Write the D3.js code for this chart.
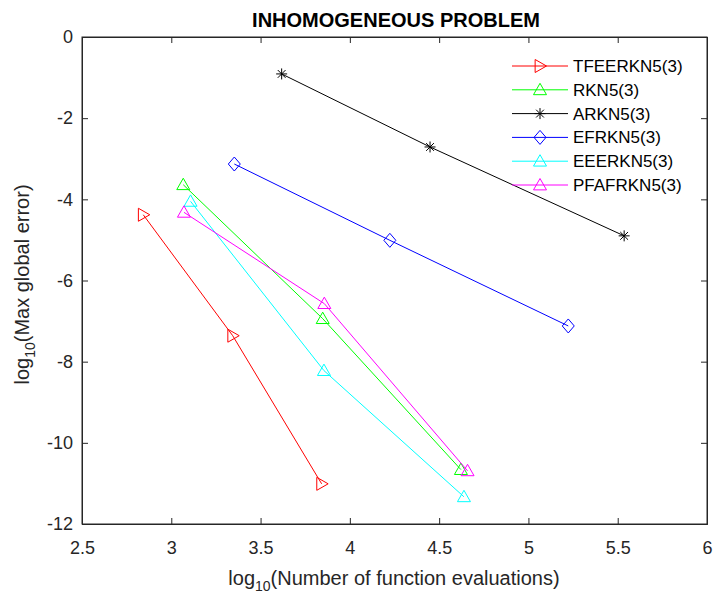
<!DOCTYPE html>
<html><head><meta charset="utf-8">
<script src="https://cdn.jsdelivr.net/npm/d3@7"></script>
<style>body{margin:0;background:#fff}svg{display:block;font-family:"Liberation Sans",Arial,sans-serif}</style>
</head><body><svg id="c" width="714" height="593"></svg>
<script>
const seriesNames = ["TFEERKN5(3)","RKN5(3)","ARKN5(3)","EFRKN5(3)","EEERKN5(3)","PFAFRKN5(3)"];
const seriesColors = ["#ff0000","#00ff00","#000000","#0000ff","#00ffff","#ff00ff"];
const seriesMarkers = ["triRight","triUp","star","diamond","triUp","triUp"];
const xTFEERKN = [2.843, 3.344, 3.842];
const yTFEERKN = [-4.38, -7.36, -11.01];
const xRKN = [3.067, 3.848, 4.622];
const yRKN = [-3.64, -6.94, -10.66];
const xARKN = [3.618, 4.449, 5.536];
const yARKN = [-0.91, -2.71, -4.90];
const xEFRKN = [3.353, 4.224, 5.223];
const yEFRKN = [-3.13, -5.01, -7.12];
const xEEERKN = [3.108, 3.855, 4.639];
const yEEERKN = [-4.05, -8.22, -11.33];
const xPFAFRKN = [3.071, 3.857, 4.659];
const yPFAFRKN = [-4.32, -6.57, -10.69];
const xTicks = [2.5, 3, 3.5, 4, 4.5, 5, 5.5, 6];
const yTicks = [0, -2, -4, -6, -8, -10, -12];

const xs = [xTFEERKN, xRKN, xARKN, xEFRKN, xEEERKN, xPFAFRKN];
const ys = [yTFEERKN, yRKN, yARKN, yEFRKN, yEEERKN, yPFAFRKN];

const L = 82, R = 707, T = 37, B = 524;
const svg = d3.select("#c");
const x = d3.scaleLinear().domain([2.5, 6]).range([L, R]);
const y = d3.scaleLinear().domain([-12, 0]).range([B, T]);
const axisColor = "#262626";

svg.append("rect").attr("x", L).attr("y", T).attr("width", R - L).attr("height", B - T)
  .attr("fill", "none").attr("stroke", axisColor).attr("stroke-width", 1);

const gx = svg.append("g").attr("transform", `translate(0,${B})`)
  .call(d3.axisBottom(x).tickValues(xTicks).tickSize(-6).tickPadding(17).tickFormat(d => d));
const gxt = svg.append("g").attr("transform", `translate(0,${T})`)
  .call(d3.axisTop(x).tickValues(xTicks).tickSize(-6).tickFormat(""));
const gy = svg.append("g").attr("transform", `translate(${L},0)`)
  .call(d3.axisLeft(y).tickValues(yTicks).tickSize(-6).tickPadding(9).tickFormat(d => d));
const gyr = svg.append("g").attr("transform", `translate(${R},0)`)
  .call(d3.axisRight(y).tickValues(yTicks).tickSize(-6).tickFormat(""));
[gx, gxt, gy, gyr].forEach(g => {
  g.select(".domain").attr("stroke", axisColor);
  g.selectAll(".tick line").attr("stroke", axisColor);
  g.selectAll(".tick text").attr("fill", axisColor).attr("font-size", 18)
    .attr("font-family", "'Liberation Sans', Arial, sans-serif");
});

function markerPath(type, cx, cy) {
  const s = 6.5;
  if (type === "triUp") return `M${cx},${cy - s}L${cx + s},${cy + s * 0.75}L${cx - s},${cy + s * 0.75}Z`;
  if (type === "triRight") return `M${cx + s},${cy}L${cx - s * 0.75},${cy - s}L${cx - s * 0.75},${cy + s}Z`;
  if (type === "diamond") return `M${cx},${cy - 7}L${cx + 6},${cy}L${cx},${cy + 7}L${cx - 6},${cy}Z`;
  if (type === "star") {
    const r = 5.5, d = r * 0.7071;
    return `M${cx - r},${cy}L${cx + r},${cy}M${cx},${cy - r}L${cx},${cy + r}M${cx - d},${cy - d}L${cx + d},${cy + d}M${cx - d},${cy + d}L${cx + d},${cy - d}`;
  }
}

const line = d3.line().x(d => x(d[0])).y(d => y(d[1]));
seriesNames.forEach((name, i) => {
  const pts = xs[i].map((v, j) => [v, ys[i][j]]);
  const g = svg.append("g");
  g.append("path").attr("d", line(pts)).attr("fill", "none").attr("stroke", seriesColors[i]).attr("stroke-width", 1);
  g.selectAll("path.m").data(pts).enter().append("path").attr("class", "m")
    .attr("d", d => markerPath(seriesMarkers[i], x(d[0]), y(d[1])))
    .attr("fill", "none").attr("stroke", seriesColors[i]).attr("stroke-width", 1);
});

const lg = svg.append("g");
seriesNames.forEach((name, i) => {
  const ly = 66 + i * 23.8;
  lg.append("line").attr("x1", 512).attr("x2", 568).attr("y1", ly).attr("y2", ly)
    .attr("stroke", seriesColors[i]).attr("stroke-width", 1);
  lg.append("path").attr("d", markerPath(seriesMarkers[i], 540, ly))
    .attr("fill", "none").attr("stroke", seriesColors[i]).attr("stroke-width", 1);
  lg.append("text").attr("x", 573).attr("y", ly + 6).attr("font-size", 17).attr("fill", "#000").text(name);
});

svg.append("text").attr("x", 396).attr("y", 27).attr("text-anchor", "middle")
  .attr("font-size", 20).attr("font-weight", "bold").attr("fill", "#000").text("INHOMOGENEOUS PROBLEM");

const xl = svg.append("text").attr("x", 394).attr("y", 585).attr("text-anchor", "middle")
  .attr("font-size", 20).attr("fill", axisColor);
xl.append("tspan").text("log");
xl.append("tspan").attr("font-size", 14).attr("dy", 6).text("10");
xl.append("tspan").attr("dy", -6).text("(Number of function evaluations)");

const yl = svg.append("text").attr("transform", `translate(29,${(T + B) / 2 + 4}) rotate(-90)`)
  .attr("text-anchor", "middle").attr("font-size", 20).attr("fill", axisColor);
yl.append("tspan").text("log");
yl.append("tspan").attr("font-size", 14).attr("dy", 6).text("10");
yl.append("tspan").attr("dy", -6).text("(Max global error)");
</script></body></html>
